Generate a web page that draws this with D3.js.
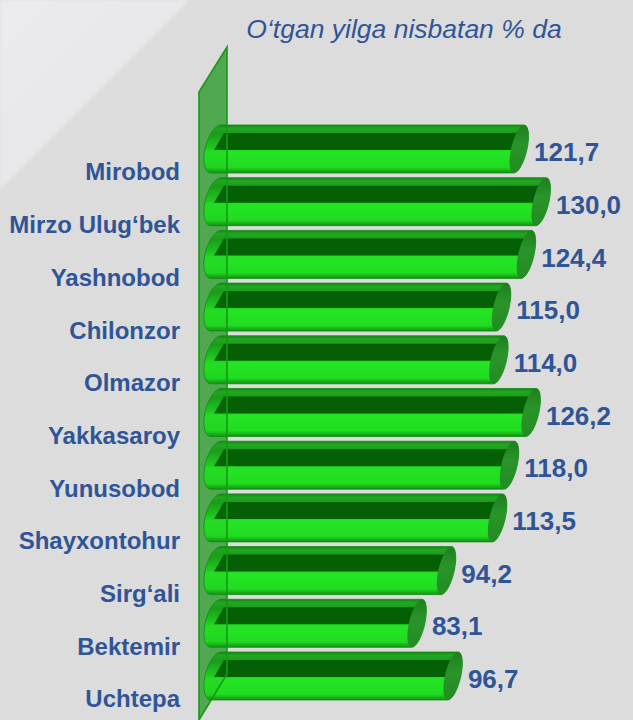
<!DOCTYPE html>
<html>
<head>
<meta charset="utf-8">
<script src="https://cdn.jsdelivr.net/npm/d3@7"></script>
<style>
  html, body { margin: 0; padding: 0; background: #dcdcdc; }
  svg { display: block; }
</style>
</head>
<body>
<svg id="chart" width="633" height="720"></svg>
<script>
// Districts of Tashkent and growth relative to the previous year, %
const districts = ["Mirobod", "Mirzo Ulug‘bek", "Yashnobod", "Chilonzor", "Olmazor",
  "Yakkasaroy", "Yunusobod", "Shayxontohur", "Sirg‘ali", "Bektemir", "Uchtepa"];
const growth = [121.7, 130.0, 124.4, 115.0, 114.0, 126.2, 118.0, 113.5, 94.2, 83.1, 96.7];
const xDomain = [0, 130];
const titleText = "O‘tgan yilga nisbatan % da";

const W = 633, H = 720;
const svg = d3.select("#chart");
const defs = svg.append("defs");

// Uzbek number format: decimal comma
const fmt = d3.formatLocale({ decimal: ",", thousands: " ", grouping: [3], currency: ["", ""] }).format(".1f");

const x = d3.scaleLinear().domain(xDomain).range([205, 549]);
const y = d3.scaleBand().domain(districts).range([122.65, 702.35])
  .paddingInner(0.09).paddingOuter(0.045);

const blue = "#2f5597";
const font = "Liberation Sans, Arial, sans-serif";

// ---- background ----
svg.append("rect").attr("width", W).attr("height", H).attr("fill", "#dcdcdc");
const lg = defs.append("linearGradient").attr("id", "corner")
  .attr("x1", 0).attr("y1", 0).attr("x2", 1).attr("y2", 1);
lg.append("stop").attr("offset", "0%").attr("stop-color", "#ebebed");
lg.append("stop").attr("offset", "100%").attr("stop-color", "#e5e5e7");
defs.append("filter").attr("id", "soft").append("feGaussianBlur").attr("stdDeviation", 1.5);
svg.append("path").attr("d", "M0,0 L190,0 L0,190 Z")
  .attr("fill", "url(#corner)").attr("filter", "url(#soft)");

// ---- title ----
svg.append("text")
  .attr("x", 404).attr("y", 29).attr("dy", "0.35em")
  .attr("text-anchor", "middle")
  .attr("font-family", font)
  .attr("font-style", "italic").attr("font-size", 26.5)
  .attr("fill", blue)
  .text(titleText);

// ---- back wall of the category axis ----
const wallPts = [[199, 92], [227, 47], [227, 674], [199, 720]];
svg.append("polygon")
  .attr("points", wallPts.map(p => p.join(",")).join(" "))
  .attr("fill", "#1c961c").attr("fill-opacity", 0.7);

// ---- cylinder bars ----
const body = defs.append("linearGradient").attr("id", "body")
  .attr("x1", 0).attr("y1", 0).attr("x2", 0).attr("y2", 1);
[["0%", "#128612"], ["7%", "#22a822"], ["18%", "#1b9b1b"], ["48%", "#1fcf1f"],
 ["56%", "#24e424"], ["88%", "#22dc22"], ["100%", "#139013"]]
  .forEach(([o, c]) => body.append("stop").attr("offset", o).attr("stop-color", c));

const cap = defs.append("linearGradient").attr("id", "cap")
  .attr("x1", 0).attr("y1", 0).attr("x2", 0).attr("y2", 1);
[["0%", "#1e7f1e"], ["40%", "#2a942a"], ["100%", "#238c23"]]
  .forEach(([o, c]) => cap.append("stop").attr("offset", o).attr("stop-color", c));

const bh = y.bandwidth();
const rx = 8, ry = bh / 2, lrx = 11;
const tilt = Math.tan(12 * Math.PI / 180);   // slant of the cylinder end faces
const K = 0.5523;                              // Bézier circle constant

// point on a slanted ellipse centred at (cx, cy)
const sk = (cx, cy, px, py) => [cx + px - tilt * py, cy + py];
const pt = p => p.map(v => v.toFixed(2)).join(",");

// right half (top -> bottom) of a slanted ellipse, as cubic segments
function rightHalf(cx, cy, a, b) {
  const s = (px, py) => pt(sk(cx, cy, px, py));
  return `C${s(K * a, -b)} ${s(a, -K * b)} ${s(a, 0)}` +
         ` C${s(a, K * b)} ${s(K * a, b)} ${s(0, b)}`;
}
// left half (bottom -> top) of a slanted ellipse
function leftHalf(cx, cy, a, b) {
  const s = (px, py) => pt(sk(cx, cy, px, py));
  return `C${s(-K * a, b)} ${s(-a, K * b)} ${s(-a, 0)}` +
         ` C${s(-a, -K * b)} ${s(-K * a, -b)} ${s(0, -b)}`;
}

const rows = districts.map((d, i) => ({ name: d, value: growth[i] }));

const bars = svg.append("g").selectAll("g")
  .data(rows)
  .join("g");

// cylinder body
bars.append("path")
  .attr("d", d => {
    const cl = x(0) + lrx, cr = x(d.value) - rx, cy = y(d.name) + ry;
    return `M${pt(sk(cl, cy, 0, -ry))} L${pt(sk(cr, cy, 0, -ry))} ${rightHalf(cr, cy, rx, ry)}` +
           ` L${pt(sk(cl, cy, 0, ry))} ${leftHalf(cl, cy, lrx, ry)} Z`;
  })
  .attr("fill", "url(#body)")
  .attr("stroke", "#128a12").attr("stroke-width", 0.8);

// dark top band
bars.append("path")
  .attr("d", d => {
    const x0 = x(0), x1 = x(d.value), t = y(d.name);
    return `M${x0 + 19},${t + 8} L${x1 - 5},${t + 8} L${x1 - 12},${t + 25} L${x0 + 9},${t + 25} Z`;
  })
  .attr("fill", "#055f05");

// right end face
bars.append("path")
  .attr("d", d => {
    const cr = x(d.value) - rx, cy = y(d.name) + ry;
    return `M${pt(sk(cr, cy, 0, -ry))} ${rightHalf(cr, cy, rx, ry)} ${leftHalf(cr, cy, rx, ry)} Z`;
  })
  .attr("fill", "url(#cap)");

// ---- front veil of the wall ----
svg.append("polygon")
  .attr("points", wallPts.map(p => p.join(",")).join(" "))
  .attr("fill", "#1a9a1a").attr("fill-opacity", 0.1)
  .attr("stroke", "#159a15").attr("stroke-width", 1.6);

// ---- category labels ----
svg.append("g").selectAll("text")
  .data(districts)
  .join("text")
  .attr("x", 180)
  .attr("y", d => y(d) + 47)
  .attr("dy", "0.35em")
  .attr("text-anchor", "end")
  .attr("font-family", font)
  .attr("font-weight", "bold").attr("font-size", 24)
  .attr("fill", blue)
  .text(d => d);

// ---- value labels ----
svg.append("g").selectAll("text")
  .data(rows)
  .join("text")
  .attr("x", d => x(d.value) + 7)
  .attr("y", d => y(d.name) + 27)
  .attr("dy", "0.35em")
  .attr("font-family", font)
  .attr("font-weight", "bold").attr("font-size", 26)
  .attr("fill", blue)
  .text(d => fmt(d.value));
</script>
</body>
</html>
